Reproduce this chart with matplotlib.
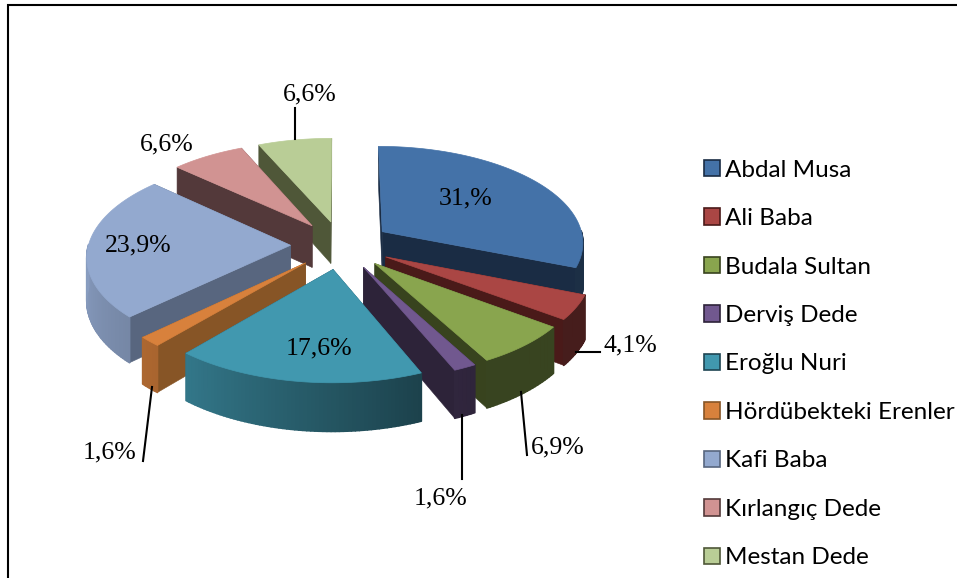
import numpy as np
import matplotlib
matplotlib.use("Agg")
import matplotlib.pyplot as plt
from matplotlib.patches import Patch, Polygon

# chart data
names = ['Abdal Musa', 'Ali Baba', 'Budala Sultan', 'Derviş Dede', 'Eroğlu Nuri',
         'Hördübekteki Erenler', 'Kafi Baba', 'Kırlangıç Dede', 'Mestan Dede']
values = [31.0, 4.1, 6.9, 1.6, 17.6, 1.6, 23.9, 6.6, 6.6]
labels = ['31,%', '4,1%', '6,9%', '1,6%', '17,6%', '1,6%', '23,9%', '6,6%', '6,6%']
colors = ['#4472a8', '#aa4644', '#89a54e', '#71588f', '#4198af',
          '#d8813c', '#93a9cf', '#d19392', '#b9cd96']
wall_colors = ['#1a2c44', '#4a1a19', '#38431e', '#2d2339', '#1f4553',
               '#875526', '#58667f', '#53393a', '#4f5738']

# pie geometry in image pixels
cx, cy = 341, 245
rx, ry = 202, 96.5
persp = 0.1015
explode = 0.25
depth = 42.5

# back to front
draw_order = [8, 7, 0, 6, 1, 5, 2, 3, 4]

# label positions, (x, y, slice)
label_pos = [(466, 198), (630, 345), (558, 447), (441, 498), (319, 348),
             (110, 452), (138, 245), (167, 144), (310, 94)]
leaders = [((576, 352), (600, 352)), ((521, 392), (527, 455)), ((462, 415), (462, 479)),
           ((152, 387), (143, 461)), ((295, 139), (295, 108))]


def project(X, Y, h=0.0):
    w = 1 - persp * Y
    return cx + rx * X / w, cy + (ry * Y + h) / w


def wall_shade(theta):
    return np.interp(theta, [150, 157, 220, 270], [0.41, 0.43, 0.78, 0.93])


fig = plt.figure(figsize=(9.57, 5.78), dpi=100)
ax = fig.add_axes([0, 0, 1, 1])
ax.set_xlim(0, 957)
ax.set_ylim(578, 0)
ax.axis('off')

ax.plot([7.5, 7.5, 957], [578, 5, 5], color='black', lw=1.5, solid_joinstyle='miter', clip_on=False)

fracs = np.array(values) / np.sum(values)
stops = np.concatenate([[0], np.cumsum(fracs)]) * 360

for i in draw_order:
    a0, a1 = stops[i], stops[i + 1]
    mid = np.radians((a0 + a1) / 2)
    ex, ey = explode * np.sin(mid), -explode * np.cos(mid)
    th = np.radians(np.linspace(a0, a1, max(int(a1 - a0), 2) + 1))
    Xo = ex + np.sin(th)
    Yo = ey - np.cos(th)

    # two radial walls
    for k in (0, -1):
        xs = [project(ex, ey)[0], project(Xo[k], Yo[k])[0], project(Xo[k], Yo[k], depth)[0], project(ex, ey, depth)[0]]
        ys = [project(ex, ey)[1], project(Xo[k], Yo[k])[1], project(Xo[k], Yo[k], depth)[1], project(ex, ey, depth)[1]]
        ax.add_patch(Polygon(np.column_stack([xs, ys]), fc=wall_colors[i], ec=wall_colors[i], lw=0.4))

    # outer wall, in short pieces for the shading
    for j in range(len(th) - 1):
        t = np.degrees((th[j] + th[j + 1]) / 2)
        if not 90 < t < 270:
            continue
        p = [project(Xo[j], Yo[j]), project(Xo[j + 1], Yo[j + 1]),
             project(Xo[j + 1], Yo[j + 1], depth), project(Xo[j], Yo[j], depth)]
        base = np.array(matplotlib.colors.to_rgb(colors[i]))
        c = base * wall_shade(t)
        ax.add_patch(Polygon(p, fc=c, ec=c, lw=1.2, joinstyle='round'))

    # top face
    xt, yt = project(np.r_[ex, Xo], np.r_[ey, Yo])
    ax.add_patch(Polygon(np.column_stack([xt, yt]), fc=colors[i], ec=colors[i], lw=0.5))

for p0, p1 in leaders:
    ax.plot([p0[0], p1[0]], [p0[1], p1[1]], color='black', lw=1.5)

for (x, y), s in zip(label_pos, labels):
    ax.text(x, y, s, family='Liberation Serif', fontsize=18.5, ha='center', va='center', color='black')

handles = [Patch(fc=c, ec=w, lw=1.2) for c, w in zip(colors, wall_colors)]
ax.legend(handles, names, loc='center left', bbox_to_anchor=(699 / 957, 1 - 364 / 578),
          frameon=False, prop={'family': 'Lato', 'size': 17.5}, handlelength=0.66, handleheight=0.66,
          handletextpad=0.22, labelspacing=1.13, borderpad=0, borderaxespad=0.2)

fig.savefig('out.png', dpi=100)
